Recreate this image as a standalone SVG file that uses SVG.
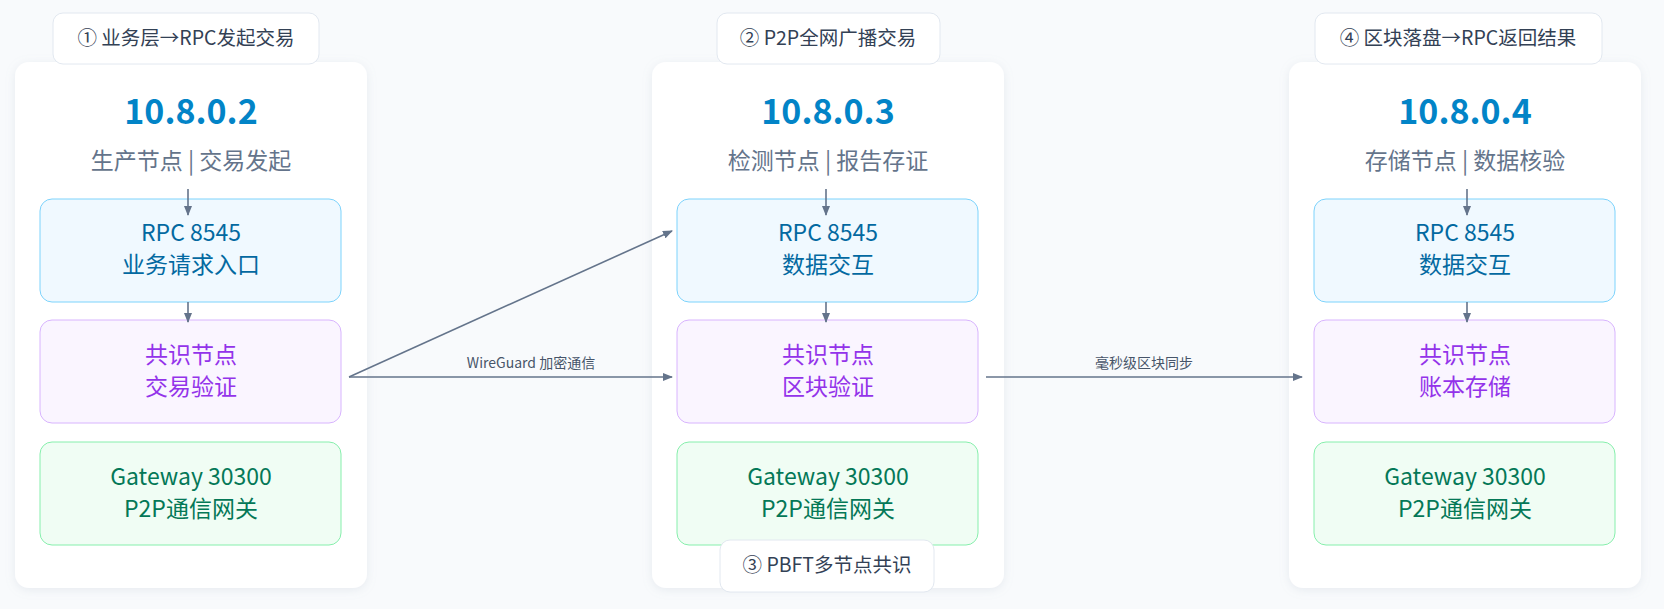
<svg xmlns="http://www.w3.org/2000/svg" width="1664" height="609" viewBox="0 0 1664 609">
<defs>
<marker id="ah" markerWidth="10" markerHeight="8" refX="9" refY="4" orient="auto" markerUnits="userSpaceOnUse"><path d="M0,0 L10,4 L0,8 z" fill="#64748b"/></marker>
<filter id="sd" x="-10%" y="-10%" width="120%" height="120%"><feDropShadow dx="0" dy="2" stdDeviation="5" flood-color="#94a3b8" flood-opacity="0.18"/></filter>
</defs>
<style>
text{font-family:"Noto Sans CJK SC","Noto Sans",sans-serif;text-anchor:middle}
.card{fill:#fff;filter:url(#sd)}
.ip{font-size:34px;font-weight:bold;fill:#0284c7}
.sub{font-size:23px;fill:#64748b}
.rpc{fill:#f0f9ff;stroke:#7dd3fc;stroke-width:1}
.con{fill:#faf5ff;stroke:#d8b4fe;stroke-width:1}
.gw{fill:#f0fdf4;stroke:#86efac;stroke-width:1}
.trpc{font-size:23px;fill:#0369a1}
.tcon{font-size:23px;fill:#9333ea}
.tgw{font-size:23px;fill:#047857}
.lb{fill:#fff;stroke:#e2e8f0;stroke-width:1}
.tl{font-size:19.5px;fill:#334155}
.ln{stroke:#64748b;stroke-width:1.6;fill:none}
.el{font-size:14px;fill:#475569}
</style>
<rect width="1664" height="609" fill="#f8fafc"/>
<g id="node-102">
<rect class="card" x="15" y="62" width="352" height="526" rx="14"/>
<text class="ip" x="191" y="124">10.8.0.2</text>
<text class="sub" x="191" y="169">生产节点 | 交易发起</text>
<rect class="rpc" x="40" y="199" width="301" height="103" rx="12"/>
<text class="trpc" x="191" y="241">RPC 8545</text><text class="trpc" x="191" y="273">业务请求入口</text>
<rect class="con" x="40" y="320" width="301" height="103" rx="12"/>
<text class="tcon" x="191" y="363">共识节点</text><text class="tcon" x="191" y="395">交易验证</text>
<rect class="gw" x="40" y="442" width="301" height="103" rx="12"/>
<text class="tgw" x="191" y="485">Gateway 30300</text><text class="tgw" x="191" y="517">P2P通信网关</text>
</g>
<g id="node-103">
<rect class="card" x="652" y="62" width="352" height="526" rx="14"/>
<text class="ip" x="828" y="124">10.8.0.3</text>
<text class="sub" x="828" y="169">检测节点 | 报告存证</text>
<rect class="rpc" x="677" y="199" width="301" height="103" rx="12"/>
<text class="trpc" x="828" y="241">RPC 8545</text><text class="trpc" x="828" y="273">数据交互</text>
<rect class="con" x="677" y="320" width="301" height="103" rx="12"/>
<text class="tcon" x="828" y="363">共识节点</text><text class="tcon" x="828" y="395">区块验证</text>
<rect class="gw" x="677" y="442" width="301" height="103" rx="12"/>
<text class="tgw" x="828" y="485">Gateway 30300</text><text class="tgw" x="828" y="517">P2P通信网关</text>
</g>
<g id="node-104">
<rect class="card" x="1289" y="62" width="352" height="526" rx="14"/>
<text class="ip" x="1465" y="124">10.8.0.4</text>
<text class="sub" x="1465" y="169">存储节点 | 数据核验</text>
<rect class="rpc" x="1314" y="199" width="301" height="103" rx="12"/>
<text class="trpc" x="1465" y="241">RPC 8545</text><text class="trpc" x="1465" y="273">数据交互</text>
<rect class="con" x="1314" y="320" width="301" height="103" rx="12"/>
<text class="tcon" x="1465" y="363">共识节点</text><text class="tcon" x="1465" y="395">账本存储</text>
<rect class="gw" x="1314" y="442" width="301" height="103" rx="12"/>
<text class="tgw" x="1465" y="485">Gateway 30300</text><text class="tgw" x="1465" y="517">P2P通信网关</text>
</g>
<g id="connectors">
<line class="ln" x1="188" y1="189" x2="188" y2="215" marker-end="url(#ah)"/>
<line class="ln" x1="188" y1="302" x2="188" y2="322" marker-end="url(#ah)"/>
<line class="ln" x1="826" y1="189" x2="826" y2="215" marker-end="url(#ah)"/>
<line class="ln" x1="826" y1="302" x2="826" y2="322" marker-end="url(#ah)"/>
<line class="ln" x1="1467" y1="189" x2="1467" y2="215" marker-end="url(#ah)"/>
<line class="ln" x1="1467" y1="302" x2="1467" y2="322" marker-end="url(#ah)"/>
<line class="ln" x1="349" y1="377" x2="672" y2="231" marker-end="url(#ah)"/>
<line class="ln" x1="349" y1="377" x2="672" y2="377" marker-end="url(#ah)"/>
<text class="el" x="531" y="368">WireGuard 加密通信</text>
<line class="ln" x1="986" y1="377" x2="1302" y2="377" marker-end="url(#ah)"/>
<text class="el" x="1144" y="368">毫秒级区块同步</text>
</g>
<g id="label-1"><rect class="lb" x="53" y="13" width="266" height="51" rx="10"/><text class="tl" x="186" y="45">① 业务层→RPC发起交易</text></g>
<g id="label-2"><rect class="lb" x="717" y="13" width="223" height="51" rx="10"/><text class="tl" x="828" y="45">② P2P全网广播交易</text></g>
<g id="label-3"><rect class="lb" x="720" y="540" width="214" height="52" rx="10"/><text class="tl" x="827" y="572">③ PBFT多节点共识</text></g>
<g id="label-4"><rect class="lb" x="1315" y="13" width="287" height="51" rx="10"/><text class="tl" x="1458" y="45">④ 区块落盘→RPC返回结果</text></g>
</svg>
